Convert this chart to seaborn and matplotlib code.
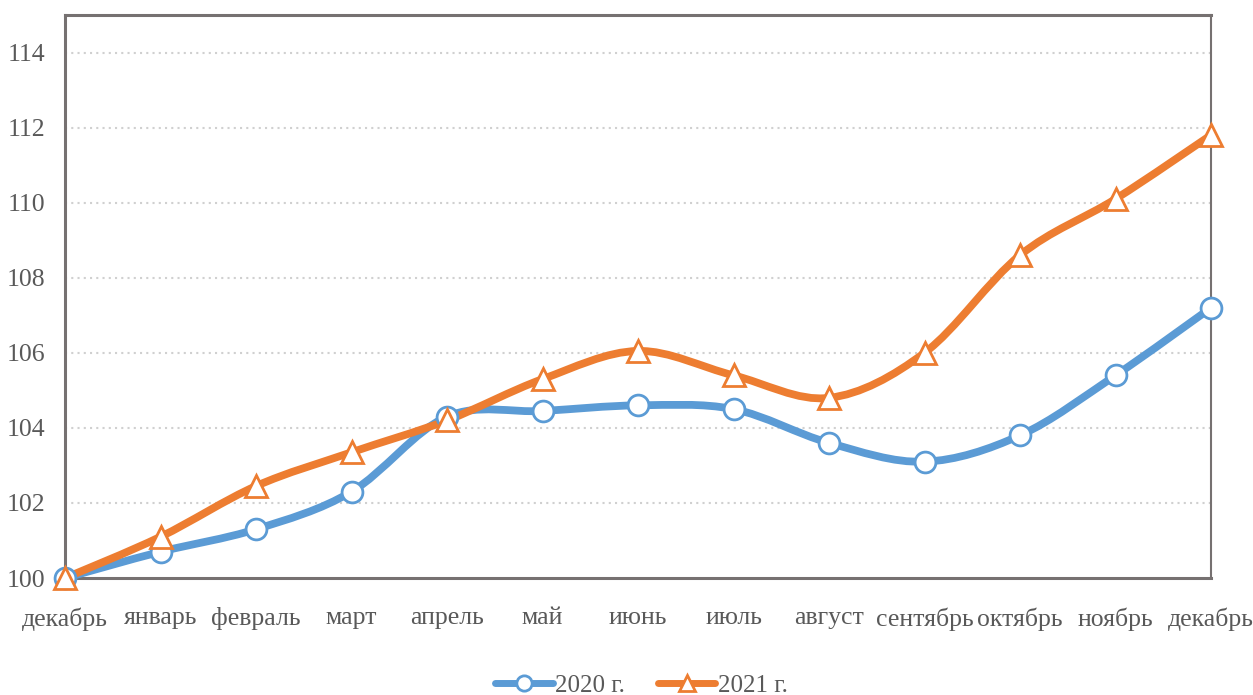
import numpy as np
import pandas as pd
import matplotlib
matplotlib.use("Agg")
import matplotlib.pyplot as plt
from matplotlib.path import Path
from matplotlib.patches import PathPatch
from matplotlib.lines import Line2D
import seaborn as sns

months = ["декабрь", "январь", "февраль", "март", "апрель", "май", "июнь",
          "июль", "август", "сентябрь", "октябрь", "ноябрь", "декабрь"]
values_2020 = [100.0, 100.7, 101.3, 102.3, 104.3, 104.45, 104.6, 104.5, 103.6, 103.1, 103.8, 105.4, 107.2]
values_2021 = [100.0, 101.1, 102.45, 103.35, 104.2, 105.3, 106.05, 105.4, 104.8, 106.0, 108.6, 110.1, 111.8]
series_names = ["2020 г.", "2021 г."]
yticks = [100, 102, 104, 106, 108, 110, 112, 114]

colors = ["#5B9BD5", "#ED7D31"]
markers = ["o", "^"]

sns.set_theme(style="white")
plt.rcParams["font.family"] = ["Liberation Serif", "DejaVu Serif"]

fig = plt.figure(figsize=(12.53, 6.95), dpi=100)
ax = fig.add_axes([0.0519, 0.1683, 0.9146, 0.8101])

x = np.arange(len(months))
df = pd.DataFrame({
    "x": np.concatenate([x, x]),
    "y": np.concatenate([values_2020, values_2021]),
    "series": [series_names[0]] * len(x) + [series_names[1]] * len(x),
})


def smooth_path(xs, ys):
    pts = np.column_stack([xs, ys]).astype(float)
    n = len(pts)
    verts = [pts[0]]
    codes = [Path.MOVETO]
    for i in range(n - 1):
        p0 = pts[i - 1] if i > 0 else pts[i]
        p1 = pts[i]
        p2 = pts[i + 1]
        p3 = pts[i + 2] if i + 2 < n else pts[i + 1]
        c1 = p1 + (p2 - p0) / 6.0
        c2 = p2 - (p3 - p1) / 6.0
        verts += [c1, c2, p2]
        codes += [Path.CURVE4] * 3
    return Path(verts, codes)


for name, vals, c in zip(series_names, [values_2020, values_2021], colors):
    patch = PathPatch(smooth_path(x, vals), facecolor="none", edgecolor=c,
                      lw=5.6, capstyle="round", joinstyle="round", zorder=3,
                      clip_on=False)
    ax.add_patch(patch)

for name, c, m in zip(series_names, colors, markers):
    sub = df[df["series"] == name]
    sns.lineplot(data=sub, x="x", y="y", ax=ax, linestyle="", marker=m,
                 markersize=15 if m == "o" else 16, markerfacecolor="white",
                 markeredgecolor=c, markeredgewidth=2.0, color=c,
                 zorder=4, clip_on=False, legend=False)

ax.set_xlim(0, len(months) - 1)
ax.set_ylim(100, 115)
ax.set_yticks(yticks)
ax.set_xticks(x)
ax.set_xticklabels(months)
ax.set_xlabel("")
ax.set_ylabel("")

text_color = "#595959"
ax.tick_params(axis="both", which="both", length=0, labelsize=18.5, colors=text_color)
ax.tick_params(axis="x", pad=21)
ax.tick_params(axis="y", pad=14)

for yv in yticks[1:]:
    ax.axhline(yv, color="#D0D0D0", lw=1.5, ls=(0, (1, 2)), zorder=1)

for side, sp in ax.spines.items():
    sp.set_visible(True)
    sp.set_color("#767171")
    sp.set_linewidth(2.2 if side in ("left", "bottom", "top") else 1.5)
    sp.set_zorder(2)

handles = [Line2D([0], [0], color=c, lw=5, marker=m, markersize=11,
                  markerfacecolor="white", markeredgecolor=c, markeredgewidth=2)
           for c, m in zip(colors, markers)]
leg = fig.legend(handles, series_names, loc="lower center",
                 bbox_to_anchor=(0.512, -0.035), ncol=2, frameon=False,
                 fontsize=18, handlelength=2.3, handletextpad=0.1,
                 columnspacing=1.3)
for t in leg.get_texts():
    t.set_color(text_color)

fig.savefig("out.png", dpi=100, facecolor="white")
